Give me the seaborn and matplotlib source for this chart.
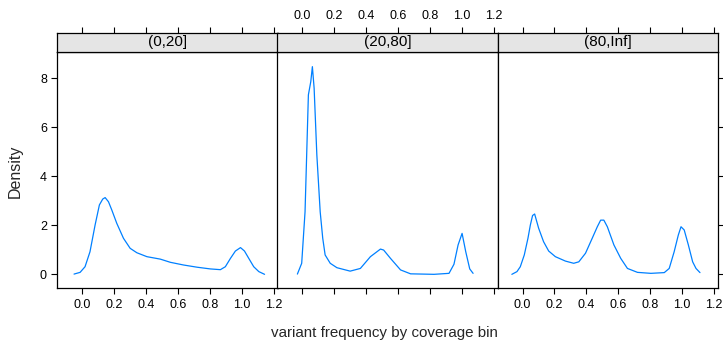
import pandas as pd
import matplotlib
matplotlib.use("Agg")
import matplotlib.pyplot as plt
import seaborn as sns

# coverage bins
bins = ["(0,20]", "(20,80]", "(80,Inf]"]

# density curves
x_low = [-0.052, -0.014, 0.017, 0.048, 0.080, 0.107, 0.128, 0.143, 0.164, 0.185,
         0.216, 0.258, 0.300, 0.342, 0.405, 0.489, 0.552, 0.635, 0.720, 0.803,
         0.866, 0.897, 0.929, 0.960, 0.992, 1.017, 1.044, 1.075, 1.107, 1.143]
y_low = [0.01, 0.08, 0.31, 0.92, 2.01, 2.83, 3.07, 3.13, 2.96, 2.62,
         2.08, 1.47, 1.06, 0.88, 0.72, 0.62, 0.49, 0.38, 0.29, 0.22,
         0.19, 0.31, 0.65, 0.95, 1.09, 0.95, 0.65, 0.31, 0.11, 0.0]

x_mid = [-0.031, -0.004, 0.017, 0.038, 0.053, 0.063, 0.074, 0.091, 0.112, 0.128,
         0.143, 0.175, 0.217, 0.300, 0.364, 0.427, 0.490, 0.510, 0.553, 0.616,
         0.679, 0.826, 0.920, 0.951, 0.977, 1.002, 1.025, 1.050, 1.071]
y_mid = [0.01, 0.45, 2.55, 7.32, 7.86, 8.47, 7.59, 4.87, 2.55, 1.47,
         0.79, 0.45, 0.27, 0.13, 0.24, 0.72, 1.03, 0.99, 0.65, 0.18,
         0.02, 0.0, 0.04, 0.41, 1.20, 1.67, 0.92, 0.22, 0.04]

x_high = [-0.067, -0.035, -0.014, 0.011, 0.034, 0.049, 0.063, 0.076, 0.101, 0.132,
          0.164, 0.206, 0.269, 0.321, 0.353, 0.395, 0.437, 0.469, 0.490, 0.510,
          0.532, 0.573, 0.616, 0.658, 0.721, 0.805, 0.889, 0.920, 0.951, 0.977,
          0.994, 1.014, 1.040, 1.067, 1.088, 1.113]
y_high = [0.0, 0.11, 0.31, 0.79, 1.47, 2.01, 2.40, 2.46, 1.88, 1.33,
          0.95, 0.72, 0.54, 0.45, 0.51, 0.86, 1.47, 1.94, 2.21, 2.21,
          1.94, 1.20, 0.65, 0.24, 0.08, 0.04, 0.07, 0.24, 0.92, 1.60,
          1.94, 1.81, 1.20, 0.51, 0.24, 0.07]

x_ticks = [0.0, 0.2, 0.4, 0.6, 0.8, 1.0, 1.2]
y_ticks = [0, 2, 4, 6, 8]

df = pd.concat([
    pd.DataFrame({"freq": x_low, "density": y_low, "bin": bins[0]}),
    pd.DataFrame({"freq": x_mid, "density": y_mid, "bin": bins[1]}),
    pd.DataFrame({"freq": x_high, "density": y_high, "bin": bins[2]}),
])

sns.set_style("white")
plt.rcParams["font.family"] = ["Liberation Sans", "DejaVu Sans"]

W, H = 723, 342
fig = plt.figure(figsize=(W / 100, H / 100), dpi=100)

lefts = [57.3, 277.3, 497.5]
pw = 220.5
top_px, bot_px, strip_top = 51.7, 288.3, 32.7

for i, b in enumerate(bins):
    ax = fig.add_axes([lefts[i] / W, 1 - bot_px / H, pw / W, (bot_px - top_px) / H])
    sns.lineplot(data=df[df["bin"] == b], x="freq", y="density",
                 color="#0080ff", linewidth=0.9, sort=False, ax=ax)
    ax.set_xlim(-0.157, 1.226)
    ax.set_ylim(-0.57, 9.08)
    ax.set_xlabel("")
    ax.set_ylabel("")
    for s in ax.spines.values():
        s.set_color("black")
        s.set_linewidth(0.9)
    ax.set_xticks(x_ticks)
    ax.set_yticks(y_ticks)
    ax.tick_params(direction="out", length=4.5, width=0.8, color="black",
                   labelsize=9, labelcolor="black", pad=3)
    ax.tick_params(axis="x", bottom=True, labelbottom=(i != 1))
    if i == 0:
        ax.tick_params(axis="y", left=True, labelleft=True, right=False)
    elif i == 2:
        ax.tick_params(axis="y", left=False, labelleft=False, right=True, labelright=False)
    else:
        ax.tick_params(axis="y", left=False, labelleft=False)

    # strip on top of each panel
    sx = fig.add_axes([lefts[i] / W, 1 - top_px / H, pw / W, (top_px - strip_top) / H],
                      sharex=ax)
    sx.set_facecolor("#e5e5e5")
    sx.set_yticks([])
    for s in sx.spines.values():
        s.set_color("black")
        s.set_linewidth(0.9)
    sx.xaxis.set_ticks_position("top")
    sx.tick_params(axis="x", direction="out", length=4.5, width=0.8, color="black",
                   labelsize=9, labelcolor="black", top=True, bottom=False,
                   labeltop=(i == 1), labelbottom=False, pad=3)
    sx.text(0.5, 0.5, b, transform=sx.transAxes, ha="center", va="center",
            fontsize=11, color="black")

fig.text(15 / W, 1 - 171 / H, "Density", rotation=90, ha="center", va="center",
         fontsize=11.5)
fig.text(384 / W, 1 - 333 / H, "variant frequency by coverage bin",
         ha="center", va="center", fontsize=10.9)

fig.savefig("out.png", dpi=100)
